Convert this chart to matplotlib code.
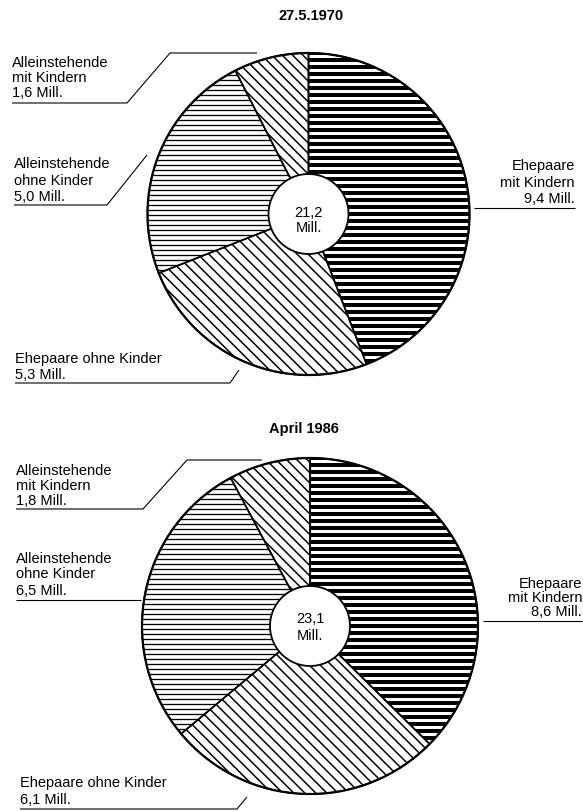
import numpy as np
import matplotlib
matplotlib.use("Agg")
import matplotlib.pyplot as plt
from matplotlib.collections import LineCollection
from matplotlib.patches import Circle

# ---------------- data ----------------
categories = ["Ehepaare mit Kindern", "Ehepaare ohne Kinder",
              "Alleinstehende ohne Kinder", "Alleinstehende mit Kindern"]
values_1970 = [9.4, 5.3, 5.0, 1.6]
values_1986 = [8.6, 6.1, 6.5, 1.8]
label_values_1970 = ["9,4", "5,3", "5,0", "1,6"]
label_values_1986 = ["8,6", "6,1", "6,5", "1,8"]
total_1970 = "21,2"
total_1986 = "23,1"
titles = ["27.5.1970", "April 1986"]

W, H = 583, 811
DPI = 100
PX = 72.0 / DPI  # points per pixel

plt.rcParams['font.family'] = ['Liberation Sans', 'DejaVu Sans']

fig = plt.figure(figsize=(W / DPI, H / DPI), dpi=DPI)
fig.patch.set_facecolor('white')
ax = fig.add_axes([0, 0, 1, 1])


def Y(ypx):
    return H - ypx


# hatch styles per category: (kind, period px, linewidth px)
hatch_styles = [("h", 7.0, 4.0), ("d", 7.8, 1.5), ("h", 5.0, 1.3), ("d", 7.3, 1.5)]


def draw_pie(values, cx, cy_px, r, r_hole, total, center_baselines):
    cy = Y(cy_px)
    wedges, _ = ax.pie(values, center=(cx, cy), radius=r, startangle=90,
                       counterclock=False, frame=True,
                       wedgeprops=dict(facecolor='none', edgecolor='black',
                                       linewidth=1.6 * PX, zorder=3))
    for w, (kind, period, lw) in zip(wedges, hatch_styles):
        segs = []
        if kind == "h":
            for yy in np.arange(cy - r, cy + r + period, period):
                segs.append([(cx - r - 5, yy), (cx + r + 5, yy)])
        else:
            n = np.array([1, 1]) / np.sqrt(2)
            t = np.array([1, -1]) / np.sqrt(2)
            c = np.array([cx, cy])
            for d in np.arange(-r * 1.05, r * 1.05, period):
                p0 = c + d * n
                segs.append([tuple(p0 - 1.2 * r * t), tuple(p0 + 1.2 * r * t)])
        lc = LineCollection(segs, colors='black', linewidths=lw * PX, zorder=2,
                            capstyle='butt')
        ax.add_collection(lc)
        lc.set_clip_path(w)
    ax.add_patch(Circle((cx, cy), r, fill=False, edgecolor='black',
                        linewidth=2.2 * PX, zorder=4))
    ax.add_patch(Circle((cx, cy), r_hole, facecolor='white', edgecolor='black',
                        linewidth=1.8 * PX, zorder=5))
    ax.text(cx, Y(center_baselines[0]), total, ha='center', va='baseline',
            fontsize=10.5, zorder=6)
    ax.text(cx, Y(center_baselines[1]), "Mill.", ha='center', va='baseline',
            fontsize=10.5, zorder=6)


def label(lines, x, baselines, ha='left'):
    for s, b in zip(lines, baselines):
        ax.text(x, Y(b), s, ha=ha, va='baseline', fontsize=10.5, zorder=6)


def leader(pts):
    xs = [p[0] for p in pts]
    ys = [Y(p[1]) for p in pts]
    ax.plot(xs, ys, color='black', linewidth=1.1 * PX, zorder=6,
            solid_capstyle='butt')


# ---------------- 1970 ----------------
ax.text(311, Y(20), titles[0], ha='center', va='baseline', fontsize=10.5,
        fontweight='bold')
draw_pie(values_1970, 308.5, 214, 161, 40, total_1970, (217, 232))

label(["Alleinstehende", "mit Kindern", label_values_1970[3] + " Mill."], 12, (67, 82, 97))
leader([(12, 103), (127, 103), (170, 53), (257, 53)])

label(["Alleinstehende", "ohne Kinder", label_values_1970[2] + " Mill."], 14, (168, 185, 201))
leader([(14, 205), (107, 205), (147, 155)])

label(["Ehepaare ohne Kinder", label_values_1970[1] + " Mill."], 15, (363, 379))
leader([(15, 383), (230, 383), (239, 370)])

label(["Ehepaare", "mit Kindern", label_values_1970[0] + " Mill."], 575, (170, 187, 203), ha='right')
leader([(474, 208), (575, 208)])

# ---------------- 1986 ----------------
ax.text(304, Y(433), titles[1], ha='center', va='baseline', fontsize=10.5,
        fontweight='bold')
draw_pie(values_1986, 310, 626, 168, 40, total_1986, (623, 640))

label(["Alleinstehende", "mit Kindern", label_values_1986[3] + " Mill."], 16, (475, 490, 505))
leader([(16, 509), (143, 509), (187, 460), (262, 460)])

label(["Alleinstehende", "ohne Kinder", label_values_1986[2] + " Mill."], 16, (563, 578, 595))
leader([(16, 600), (141, 600)])

label(["Ehepaare ohne Kinder", label_values_1986[1] + " Mill."], 20, (787, 804))
leader([(20, 809), (237, 809), (247, 797)])

label(["Ehepaare", "mit Kindern", label_values_1986[0] + " Mill."], 582, (588, 602, 616), ha='right')
leader([(483, 621), (582, 621)])

ax.set_xlim(0, W)
ax.set_ylim(0, H)
ax.set_aspect('auto')
ax.axis('off')

fig.savefig("out.png", dpi=DPI, facecolor='white')
